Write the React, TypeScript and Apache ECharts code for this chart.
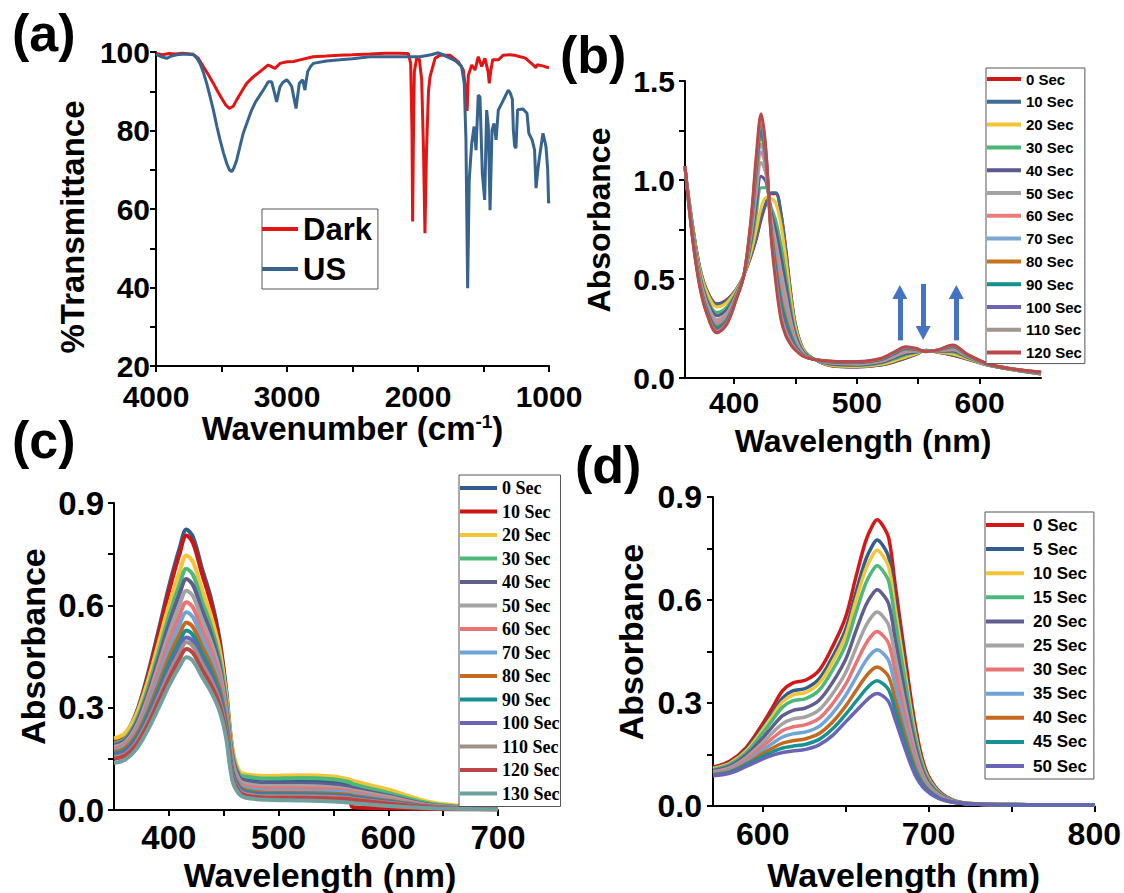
import React, { useEffect, useRef } from 'react';
import * as echarts from 'echarts';

const SANS = '"Liberation Sans", Arial, Helvetica, sans-serif';
const SERIF = '"Liberation Serif", "Times New Roman", Times, serif';

// ---------- (a) FTIR ----------
const FTIR_DARK: [number, number][] = [
  [4000, 99.6], [3950, 99.3], [3900, 99.6], [3850, 99.5], [3800, 99.7], [3715, 99.4], [3680, 98.5], [3639, 96.3],
  [3600, 94.2], [3562, 92], [3530, 90], [3499, 88.2], [3470, 86.6], [3440, 85.6], [3410, 86.2], [3384, 87.8],
  [3345, 90], [3308, 92], [3260, 93.6], [3206, 95], [3143, 96.7], [3115, 96.2], [3092, 95.8], [3053, 97.1],
  [3000, 97.5], [2950, 97.6], [2901, 98], [2801, 98.8], [2700, 99], [2600, 99.2], [2500, 99.3], [2367, 99.5],
  [2250, 99.7], [2150, 99.7], [2074, 99.6], [2056, 97.1], [2046, 80], [2041, 56.8], [2036, 75], [2028, 95],
  [2010, 98.4], [1990, 98.2], [1972, 93], [1958, 75], [1947, 53.8], [1935, 75], [1920, 90], [1908, 93.7],
  [1870, 98.4], [1832, 99.2], [1756, 99.2], [1692, 97.5], [1654, 95.4], [1635, 90], [1625, 85], [1616, 94],
  [1590, 96.7], [1565, 95.4], [1540, 98.8], [1514, 96.3], [1489, 98.4], [1465, 95], [1456, 92], [1445, 95],
  [1430, 98], [1387, 98], [1349, 99.2], [1300, 99.3], [1267, 99.2], [1220, 98.8], [1183, 98.5], [1130, 97],
  [1100, 96], [1090, 96.8], [1072, 96.6], [1040, 96.4], [1017, 96.1], [1000, 96],
];
const FTIR_US: [number, number][] = [
  [4000, 99.4], [3960, 98.8], [3918, 98.4], [3880, 99], [3842, 99.3], [3780, 99.5], [3715, 99.3], [3690, 98.5],
  [3664, 97.1], [3640, 95], [3613, 92], [3590, 89], [3562, 85.2], [3535, 81], [3511, 77.6], [3485, 74.3],
  [3460, 71.6], [3440, 70], [3422, 69.5], [3405, 70.5], [3384, 72.5], [3360, 75.8], [3334, 79.3], [3300, 82.5],
  [3270, 85.2], [3240, 87.3], [3206, 89], [3170, 90.9], [3143, 92.4], [3117, 92.4], [3095, 89.5], [3079, 87.3],
  [3065, 89.5], [3053, 91.2], [3030, 92.3], [3002, 92.9], [2985, 92.3], [2964, 91.2], [2945, 88], [2931, 85.6],
  [2918, 89], [2906, 92], [2880, 92.9], [2863, 90.3], [2852, 93], [2842, 95], [2820, 96.3], [2799, 97.1],
  [2700, 97.7], [2595, 98], [2500, 98.3], [2367, 98.8], [2200, 98.8], [2112, 98.8], [2000, 98.8], [1985, 98.8],
  [1900, 99.3], [1845, 99.8], [1800, 99.2], [1781, 98.8], [1740, 98.2], [1705, 97.5], [1667, 96.3], [1647, 92],
  [1634, 77.6], [1621, 39.8], [1609, 67.4], [1590, 76.7], [1572, 81], [1557, 75], [1540, 89], [1527, 88.6],
  [1509, 69.1], [1491, 62.3], [1476, 85.2], [1463, 81], [1450, 59.7], [1435, 80.1], [1420, 81.8], [1404, 77.6],
  [1387, 85.2], [1361, 86.9], [1336, 88.6], [1311, 90.3], [1295, 89.5], [1280, 88], [1272, 80], [1262, 76],
  [1252, 75.5], [1240, 85.3], [1200, 85.5], [1168, 84.4], [1154, 79.3], [1129, 77.6], [1110, 75], [1099, 65.3],
  [1085, 70], [1072, 73.4], [1046, 79.3], [1030, 77], [1023, 75.9], [1010, 70], [1003, 61.5], [1000, 62],
];
const A_NAMES = ['Dark', 'US'];
const A_COLORS = ['#E31414', '#36648E'];
const A_X_LABELS = [1000, 2000, 3000, 4000];
const A_X_TICKS = [1000, 1500, 2000, 2500, 3000, 3500, 4000];
const A_Y_LABELS = [20, 40, 60, 80, 100];
const A_Y_TICKS = [20, 30, 40, 50, 60, 70, 80, 90, 100];

// ---------- (b) ----------
const B_WAVELENGTH = [360, 366, 372, 378, 386, 394, 402, 408, 414, 418, 422, 426, 430, 434, 438, 442, 446, 450, 456, 464, 480, 500, 520, 530, 540, 548, 556, 566, 578, 590, 610, 650];
const B_NAMES = ['0 Sec', '10 Sec', '20 Sec', '30 Sec', '40 Sec', '50 Sec', '60 Sec', '70 Sec', '80 Sec', '90 Sec', '100 Sec', '110 Sec', '120 Sec'];
const B_COLORS = ['#CC1A1A', '#3E6C94', '#F4C431', '#4BB577', '#5B5A8C', '#A3A3A3', '#EB7C7C', '#7AA6D0', '#C8711E', '#11928D', '#6C63B3', '#A0958F', '#BA4A47'];
const B_0S = [1.06, .78, .56, .44, .375, .395, .45, .52, .62, .70, .80, .88, .93, .93, .84, .66, .44, .27, .15, .10, .06, .055, .065, .08, .10, .118, .14, .13, .115, .095, .06, .02];
const B_10S = [1.06, .78, .56, .44, .372, .393, .45, .52, .624, .708, .811, .885, .935, .935, .84, .651, .435, .267, .149, .10, .061, .056, .066, .081, .101, .119, .14, .13, .116, .096, .06, .02];
const B_20S = [1.06, .77, .55, .43, .359, .381, .445, .52, .642, .746, .859, .91, .907, .881, .781, .611, .41, .256, .146, .10, .063, .058, .069, .086, .106, .122, .139, .131, .121, .098, .061, .021];
const B_30S = [1.06, .76, .53, .40, .331, .358, .435, .52, .68, .826, .961, .961, .867, .795, .678, .527, .359, .231, .138, .099, .068, .063, .076, .095, .117, .128, .138, .134, .131, .103, .062, .023];
const B_40S = [1.06, .75, .52, .39, .315, .344, .43, .52, .702, .872, 1.019, .991, .844, .746, .619, .478, .329, .217, .134, .098, .07, .066, .079, .10, .124, .131, .137, .135, .136, .105, .062, .024];
const B_50S = [1.07, .74, .51, .375, .296, .328, .423, .52, .728, .927, 1.089, 1.026, .817, .687, .548, .42, .294, .20, .128, .097, .074, .07, .084, .107, .131, .135, .136, .136, .143, .109, .063, .025];
const B_60S = [1.07, .74, .50, .36, .282, .315, .418, .52, .748, .969, 1.142, 1.053, .796, .642, .494, .375, .267, .187, .124, .097, .076, .073, .087, .112, .137, .138, .136, .138, .148, .111, .064, .026];
const B_70S = [1.07, .73, .49, .355, .271, .306, .415, .52, .762, .998, 1.18, 1.072, .781, .61, .457, .344, .248, .178, .122, .096, .078, .075, .09, .116, .141, .141, .135, .139, .152, .113, .064, .027];
const B_80S = [1.07, .72, .48, .345, .26, .296, .41, .52, .778, 1.032, 1.223, 1.093, .764, .575, .413, .308, .227, .167, .118, .096, .08, .077, .093, .12, .146, .143, .134, .139, .156, .115, .065, .028];
const B_90S = [1.07, .72, .48, .34, .252, .29, .408, .52, .788, 1.053, 1.249, 1.107, .754, .552, .386, .286, .213, .161, .116, .096, .081, .079, .094, .122, .149, .145, .134, .14, .159, .116, .065, .028];
const B_100S = [1.07, .72, .47, .33, .244, .283, .405, .52, .80, 1.078, 1.282, 1.123, .741, .525, .354, .26, .197, .153, .114, .096, .083, .08, .097, .125, .152, .147, .134, .141, .162, .118, .065, .029];
const B_110S = [1.07, .71, .47, .325, .236, .276, .403, .52, .81, 1.099, 1.308, 1.137, .731, .503, .327, .237, .184, .147, .112, .095, .084, .082, .098, .128, .155, .148, .133, .141, .164, .119, .066, .03];
const B_120S = [1.07, .71, .46, .32, .229, .27, .40, .52, .82, 1.12, 1.335, 1.15, .72, .48, .30, .215, .17, .14, .11, .095, .085, .083, .10, .13, .158, .15, .133, .142, .167, .12, .066, .03];
const B_SERIES = [B_0S, B_10S, B_20S, B_30S, B_40S, B_50S, B_60S, B_70S, B_80S, B_90S, B_100S, B_110S, B_120S];
const B_X_LABELS = [400, 500, 600];
const B_X_TICKS = [400, 450, 500, 550, 600];
const B_Y_LABELS = [0, 0.5, 1.0, 1.5];
const B_Y_TICKS = [0, 0.25, 0.5, 0.75, 1.0, 1.25, 1.5];
// arrows: [wavelength, from absorbance, to absorbance]
const B_ARROWS: [number, number, number][] = [[535, 0.19, 0.434], [554, 0.475, 0.227], [581, 0.19, 0.434]];

// ---------- (c) ----------
const C_WAVELENGTH = [350, 360, 370, 380, 390, 400, 410, 416, 422, 430, 438, 446, 452, 458, 464, 470, 490, 520, 550, 564, 568, 600, 640, 700];
const C_NAMES = ['0 Sec', '10 Sec', '20 Sec', '30 Sec', '40 Sec', '50 Sec', '60 Sec', '70 Sec', '80 Sec', '90 Sec', '100 Sec', '110 Sec', '120 Sec', '130 Sec'];
const C_COLORS = ['#335E8C', '#CC1515', '#F3C536', '#4CB97B', '#5F5E8F', '#A3A3A3', '#EA7474', '#6FA4D6', '#C4691D', '#179191', '#6A64B4', '#9D918B', '#BB4444', '#6FA09E'];
const C_0S = [.205, .222, .282, .388, .518, .654, .77, .822, .80, .71, .625, .505, .36, .175, .105, .095, .088, .088, .082, .076, .07, .045, .015, .004];
const C_10S = [.20, .217, .276, .379, .507, .64, .754, .805, .783, .695, .611, .495, .35, .165, .095, .08, .072, .07, .065, .06, .008, .005, .003, .002];
const C_20S = [.21, .225, .277, .369, .482, .60, .70, .746, .727, .648, .574, .475, .345, .18, .115, .105, .10, .102, .098, .09, .085, .06, .022, .006];
const C_30S = [.195, .209, .259, .347, .455, .568, .663, .707, .689, .614, .543, .448, .325, .165, .105, .098, .092, .094, .09, .082, .076, .05, .018, .005];
const C_40S = [.19, .204, .251, .334, .437, .545, .636, .677, .659, .588, .521, .43, .31, .155, .097, .085, .078, .078, .074, .068, .064, .042, .015, .004];
const C_50S = [.185, .198, .242, .321, .418, .518, .604, .643, .627, .56, .496, .412, .30, .145, .088, .077, .07, .07, .066, .06, .057, .038, .013, .004];
const C_60S = [.18, .192, .234, .307, .398, .492, .573, .609, .594, .531, .472, .393, .285, .135, .082, .07, .063, .063, .06, .055, .052, .034, .012, .004];
const C_70S = [.175, .186, .226, .295, .381, .47, .546, .58, .565, .506, .45, .376, .275, .125, .076, .064, .056, .056, .054, .05, .047, .03, .011, .004];
const C_80S = [.17, .181, .218, .282, .363, .447, .518, .55, .536, .481, .428, .358, .262, .115, .07, .058, .05, .05, .048, .045, .042, .027, .01, .003];
const C_90S = [.165, .175, .21, .272, .348, .428, .495, .526, .513, .46, .41, .343, .253, .11, .066, .054, .046, .046, .044, .041, .038, .025, .009, .003];
const C_100S = [.16, .17, .203, .262, .336, .412, .477, .506, .494, .443, .395, .332, .244, .105, .062, .05, .043, .043, .041, .038, .035, .023, .008, .003];
const C_110S = [.155, .164, .197, .255, .326, .40, .463, .492, .48, .431, .384, .322, .237, .10, .058, .046, .04, .04, .038, .035, .032, .021, .008, .003];
const C_120S = [.15, .159, .19, .245, .314, .384, .445, .472, .46, .413, .369, .31, .228, .095, .054, .043, .036, .036, .034, .032, .03, .019, .007, .002];
const C_130S = [.138, .147, .177, .23, .295, .364, .422, .448, .437, .392, .349, .292, .214, .085, .047, .036, .03, .028, .025, .022, .02, .012, .005, .002];
const C_SERIES = [C_0S, C_10S, C_20S, C_30S, C_40S, C_50S, C_60S, C_70S, C_80S, C_90S, C_100S, C_110S, C_120S, C_130S];
const C_X_LABELS = [400, 500, 600, 700];
const C_X_TICKS = [400, 450, 500, 550, 600, 650, 700];
const C_Y_LABELS = [0, 0.3, 0.6, 0.9];
const C_Y_TICKS = [0, 0.15, 0.3, 0.45, 0.6, 0.75, 0.9];

// ---------- (d) ----------
const D_WAVELENGTH = [570, 580, 590, 600, 606, 612, 618, 626, 634, 642, 650, 656, 662, 666, 669, 672, 676, 680, 686, 692, 698, 706, 716, 730, 760, 800];
const D_NAMES = ['0 Sec', '5 Sec', '10 Sec', '15 Sec', '20 Sec', '25 Sec', '30 Sec', '35 Sec', '40 Sec', '45 Sec', '50 Sec'];
const D_COLORS = ['#D41818', '#335E8C', '#F3C536', '#4CB97B', '#5F5E8F', '#A3A3A3', '#EA7474', '#6FA4D6', '#C4691D', '#179191', '#6A64B4'];
const D_0S = [.113, .13, .17, .24, .288, .336, .358, .367, .395, .463, .55, .663, .77, .815, .834, .82, .78, .64, .43, .235, .11, .045, .015, .006, .004, .003];
const D_5S = [.110, .126, .164, .228, .272, .315, .335, .343, .37, .433, .514, .618, .716, .757, .775, .762, .724, .594, .399, .218, .103, .042, .014, .006, .004, .003];
const D_10S = [.109, .124, .16, .222, .263, .304, .323, .331, .357, .418, .496, .595, .688, .728, .745, .732, .696, .571, .383, .209, .099, .041, .014, .006, .004, .003];
const D_15S = [.106, .121, .155, .213, .251, .288, .306, .313, .337, .395, .469, .56, .647, .684, .70, .688, .654, .537, .36, .197, .094, .039, .014, .005, .004, .003];
const D_20S = [.103, .116, .148, .198, .232, .263, .278, .286, .308, .359, .427, .507, .583, .616, .63, .619, .588, .483, .323, .177, .085, .036, .013, .005, .004, .003];
const D_25S = [.10, .111, .141, .185, .214, .24, .253, .26, .28, .326, .388, .457, .523, .553, .565, .555, .526, .433, .289, .158, .077, .033, .012, .005, .003, .003];
const D_30S = [.097, .107, .135, .174, .198, .22, .23, .237, .255, .297, .354, .413, .471, .498, .508, .499, .473, .389, .259, .142, .07, .03, .012, .005, .003, .003];
const D_35S = [.094, .104, .129, .163, .183, .201, .21, .216, .232, .27, .322, .372, .422, .446, .455, .447, .423, .348, .232, .126, .064, .028, .011, .005, .003, .003];
const D_40S = [.092, .10, .123, .153, .169, .183, .19, .196, .211, .244, .291, .334, .376, .397, .405, .398, .376, .309, .205, .112, .057, .025, .01, .005, .003, .003];
const D_45S = [.09, .098, .119, .145, .158, .169, .174, .18, .194, .224, .267, .303, .339, .358, .365, .358, .338, .278, .184, .101, .053, .024, .01, .005, .003, .003];
const D_50S = [.088, .095, .115, .137, .148, .156, .16, .165, .178, .205, .245, .275, .305, .322, .328, .322, .303, .25, .165, .09, .048, .022, .01, .005, .003, .003];
const D_SERIES = [D_0S, D_5S, D_10S, D_15S, D_20S, D_25S, D_30S, D_35S, D_40S, D_45S, D_50S];
const D_X_LABELS = [600, 700, 800];
const D_X_TICKS = [600, 650, 700, 750, 800];
const D_Y_LABELS = [0, 0.3, 0.6, 0.9];
const D_Y_TICKS = [0, 0.15, 0.3, 0.45, 0.6, 0.75, 0.9];

const PANEL_LABELS = ['(a)', '(b)', '(c)', '(d)'];

function makeSeries(prefix: string, names: string[], colors: string[], xs: number[], ys: number[][], gi: number, width: number) {
  return names.map((n, i) => ({
    type: 'line',
    name: prefix + n,
    xAxisIndex: gi,
    yAxisIndex: gi,
    data: xs.map((x, j) => [x, ys[i][j]]),
    showSymbol: false,
    symbol: 'none',
    smooth: 0.35,
    lineStyle: { width, color: colors[i] },
    itemStyle: { color: colors[i] },
    emphasis: { disabled: true },
  }));
}

const axisLine = { show: true, onZero: false, lineStyle: { color: '#000', width: 2 } };
const tick = (vals: number[]) => ({ show: true, customValues: vals, length: 6, lineStyle: { color: '#000', width: 2 } });
const label = (vals: number[], size: number, margin: number, fmt: (v: number) => string) => ({
  show: true, customValues: vals, fontSize: size, fontWeight: 'bold', fontFamily: SANS, color: '#000', margin,
  formatter: fmt,
});
const nameStyle = (size: number, padding: number[]) => ({
  fontSize: size, fontWeight: 'bold', fontFamily: SANS, color: '#000', padding,
  rich: { sup: { fontSize: 19, fontWeight: 'bold', fontFamily: SANS, color: '#000', verticalAlign: 'top', lineHeight: 19 } },
});
const f0 = (v: number) => String(v);
const f1 = (v: number) => v.toFixed(1);

function legend(prefix: string, names: string[], left: number, top: number, opts: any) {
  return {
    data: names.map((n) => prefix + n),
    formatter: (name: string) => name.slice(prefix.length),
    orient: 'vertical', left, top, icon: 'rect', selectedMode: false,
    borderColor: '#555', borderWidth: 1, backgroundColor: '#fff',
    ...opts,
  };
}

export default function App() {
  const ref = useRef<HTMLDivElement>(null);
  useEffect(() => {
    if (!ref.current) return;
    const chart = echarts.init(ref.current, undefined, { renderer: 'svg' });
    const series: any[] = [
      ...makeSeries('a:', A_NAMES, A_COLORS, [], [], 0, 3).map((s, i) => ({
        ...s, smooth: false, data: i === 0 ? FTIR_DARK : FTIR_US,
      })),
      ...makeSeries('b:', B_NAMES, B_COLORS, B_WAVELENGTH, B_SERIES, 1, 3),
      {
        type: 'line', name: 'arrows', xAxisIndex: 1, yAxisIndex: 1, data: [], silent: true,
        markLine: {
          silent: true, animation: false, symbol: ['none', 'triangle'], symbolSize: [15, 14],
          label: { show: false },
          lineStyle: { color: '#4472C4', width: 5, type: 'solid' },
          emphasis: { disabled: true },
          data: B_ARROWS.map(([x, y0, y1]) => [{ coord: [x, y0] }, { coord: [x, y1] }]),
        },
      },
      ...makeSeries('c:', C_NAMES, C_COLORS, C_WAVELENGTH, C_SERIES, 2, 4),
      ...makeSeries('d:', D_NAMES, D_COLORS, D_WAVELENGTH, D_SERIES, 3, 3.5),
    ];
    const option: any = {
      animation: false,
      backgroundColor: '#fff',
      grid: [
        { left: 156, top: 52, width: 393, height: 314 },
        { left: 685, top: 81, width: 356, height: 297 },
        { left: 114, top: 503, width: 384, height: 309 },
        { left: 713, top: 497, width: 382, height: 309 },
      ],
      xAxis: [
        {
          gridIndex: 0, type: 'value', inverse: true, min: 1000, max: 4000,
          name: 'Wavenumber (cm{sup|-1})', nameLocation: 'middle', nameGap: 36, nameTextStyle: nameStyle(33, [0, 0, 0, 0]),
          axisLine, axisTick: tick(A_X_TICKS), axisLabel: label(A_X_LABELS, 30, 15, f0), splitLine: { show: false },
        },
        {
          gridIndex: 1, type: 'value', min: 360, max: 650,
          name: 'Wavelength (nm)', nameLocation: 'middle', nameGap: 47, nameTextStyle: nameStyle(32, [0, 0, 0, 0]),
          axisLine, axisTick: tick(B_X_TICKS), axisLabel: label(B_X_LABELS, 30, 9, f0), splitLine: { show: false },
        },
        {
          gridIndex: 2, type: 'value', min: 350, max: 700,
          name: 'Wavelength (nm)', nameLocation: 'middle', nameGap: 48, nameTextStyle: nameStyle(34, [0, 0, 0, 28]),
          axisLine, axisTick: tick(C_X_TICKS), axisLabel: label(C_X_LABELS, 33, 11, f0), splitLine: { show: false },
        },
        {
          gridIndex: 3, type: 'value', min: 570, max: 800,
          name: 'Wavelength (nm)', nameLocation: 'middle', nameGap: 52, nameTextStyle: nameStyle(34, [0, 0, 0, 0]),
          axisLine, axisTick: tick(D_X_TICKS), axisLabel: label(D_X_LABELS, 32, 12, f0), splitLine: { show: false },
        },
      ],
      yAxis: [
        {
          gridIndex: 0, type: 'value', min: 20, max: 100,
          name: '%Transmittance', nameLocation: 'middle', nameGap: 67, nameTextStyle: nameStyle(33, [0, 36, 0, 0]),
          axisLine, axisTick: tick(A_Y_TICKS), axisLabel: label(A_Y_LABELS, 30, 6, f0), splitLine: { show: false },
        },
        {
          gridIndex: 1, type: 'value', min: 0, max: 1.5,
          name: 'Absorbance', nameLocation: 'middle', nameGap: 70, nameTextStyle: nameStyle(32, [0, 0, 0, 19]),
          axisLine, axisTick: tick(B_Y_TICKS), axisLabel: label(B_Y_LABELS, 30, 10, f1), splitLine: { show: false },
        },
        {
          gridIndex: 2, type: 'value', min: 0, max: 0.9,
          name: 'Absorbance', nameLocation: 'middle', nameGap: 64, nameTextStyle: nameStyle(34, [0, 0, 0, 20]),
          axisLine, axisTick: tick(C_Y_TICKS), axisLabel: label(C_Y_LABELS, 33, 10, f1), splitLine: { show: false },
        },
        {
          gridIndex: 3, type: 'value', min: 0, max: 0.9,
          name: 'Absorbance', nameLocation: 'middle', nameGap: 65, nameTextStyle: nameStyle(34, [0, 0, 0, 19]),
          axisLine, axisTick: tick(D_Y_TICKS), axisLabel: label(D_Y_LABELS, 32, 11, f1), splitLine: { show: false },
        },
      ],
      legend: [
        legend('a:', A_NAMES, 262, 209, {
          itemWidth: 36, itemHeight: 4, itemGap: 8, padding: [4, 6, 4, 0],
          textStyle: { fontSize: 31, fontWeight: 'bold', fontFamily: SANS, color: '#000', lineHeight: 32 },
        }),
        legend('b:', B_NAMES, 986, 68, {
          itemWidth: 34, itemHeight: 4, itemGap: 6.8, padding: [3, 3, 3, 1],
          textStyle: { fontSize: 15, fontWeight: 'bold', fontFamily: SANS, color: '#000', lineHeight: 16 },
        }),
        legend('c:', C_NAMES, 459, 475, {
          itemWidth: 37, itemHeight: 4, itemGap: 5.5, padding: [4, 1, 4, 1],
          textStyle: { fontSize: 18, fontWeight: 'bold', fontFamily: SERIF, color: '#000', lineHeight: 18 },
        }),
        legend('d:', D_NAMES, 985, 512, {
          itemWidth: 38, itemHeight: 4, itemGap: 6.1, padding: [4, 7, 4, 1],
          textStyle: { fontSize: 17, fontWeight: 'bold', fontFamily: SANS, color: '#000', lineHeight: 18, padding: [0, 0, 0, 4] },
        }),
      ],
      graphic: [
        { type: 'text', left: 12, top: 7, style: { text: PANEL_LABELS[0], font: `bold 52px ${SANS}`, fill: '#000' } },
        { type: 'text', left: 560, top: 29, style: { text: PANEL_LABELS[1], font: `bold 52px ${SANS}`, fill: '#000' } },
        { type: 'text', left: 12, top: 414, style: { text: PANEL_LABELS[2], font: `bold 52px ${SANS}`, fill: '#000' } },
        { type: 'text', left: 575, top: 439, style: { text: PANEL_LABELS[3], font: `bold 52px ${SANS}`, fill: '#000' } },
      ],
      series,
    };
    chart.setOption(option);
    return () => chart.dispose();
  }, []);
  return (
    <div
      ref={ref}
      style={{ position: 'absolute', left: 0, top: 0, width: 1124, height: 893, background: '#fff' }}
    />
  );
}
